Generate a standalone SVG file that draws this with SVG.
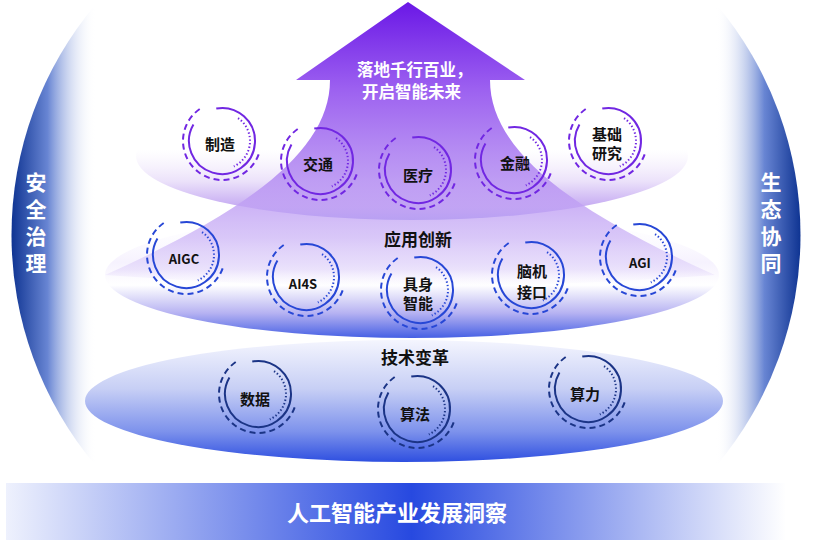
<svg xmlns="http://www.w3.org/2000/svg" xmlns:xlink="http://www.w3.org/1999/xlink" width="814" height="548" viewBox="0 0 814 548">
<style>
.lbl{font-family:"Noto Sans CJK SC","Noto Sans",sans-serif;font-weight:bold;fill:#111;text-anchor:middle;dominant-baseline:central}
.n{font-size:15px}
.en{font-size:13px;font-weight:600}
.layer{font-size:17px}
.side{font-family:"Noto Sans CJK SC",sans-serif;font-weight:bold;font-size:21px;fill:#fff;text-anchor:middle;writing-mode:vertical-rl;letter-spacing:6px}
.arrowtxt{font-family:"Noto Sans CJK SC",sans-serif;font-weight:bold;font-size:16.5px;fill:#fff}
.title{font-family:"Noto Sans CJK SC",sans-serif;font-weight:bold;font-size:22px;fill:#fff;text-anchor:middle;dominant-baseline:central}
.solid{fill:none;stroke:currentColor;stroke-width:2}
.dot{fill:none;stroke:currentColor;stroke-width:2;stroke-dasharray:1.4 2.2}
.dash{fill:none;stroke:currentColor;stroke-width:2;stroke-dasharray:6 4}
.p{color:#7127e2}.b{color:#2747d6}.d{color:#1b3486}
</style>
<defs>
<linearGradient id="gL" gradientUnits="userSpaceOnUse" x1="8" y1="0" x2="96" y2="0">
<stop offset="0" stop-color="#062c8c"/><stop offset="0.45" stop-color="#6885d3"/><stop offset="1" stop-color="#ffffff" stop-opacity="0"/>
</linearGradient>
<linearGradient id="gR" gradientUnits="userSpaceOnUse" x1="804" y1="0" x2="716" y2="0">
<stop offset="0" stop-color="#062c8c"/><stop offset="0.45" stop-color="#6885d3"/><stop offset="1" stop-color="#ffffff" stop-opacity="0"/>
</linearGradient>
<linearGradient id="gBar" gradientUnits="userSpaceOnUse" x1="6" y1="0" x2="786" y2="0">
<stop offset="0" stop-color="#eef1fd"/><stop offset="0.52" stop-color="#2749e0"/><stop offset="1" stop-color="#ffffff"/>
</linearGradient>
<linearGradient id="gBot" x1="0" y1="0" x2="0" y2="1">
<stop offset="0" stop-color="#f4f5fe"/><stop offset="0.4" stop-color="#c7cff5"/><stop offset="0.75" stop-color="#7d92ec"/><stop offset="1" stop-color="#2e4fe0"/>
</linearGradient>
<linearGradient id="gMid" x1="0" y1="0" x2="0" y2="1">
<stop offset="0" stop-color="#ffffff" stop-opacity="0"/><stop offset="0.4" stop-color="#f6f2fe"/><stop offset="0.58" stop-color="#ffffff"/><stop offset="0.8" stop-color="#b7b3f2"/><stop offset="1" stop-color="#4660e4"/>
</linearGradient>
<linearGradient id="gTop" x1="0" y1="0" x2="0" y2="1">
<stop offset="0" stop-color="#ffffff" stop-opacity="0"/><stop offset="0.45" stop-color="#ffffff" stop-opacity="0.6"/><stop offset="0.7" stop-color="#ebe1fa"/><stop offset="0.9" stop-color="#c4a9f2"/><stop offset="1" stop-color="#8579ea"/>
</linearGradient>
<linearGradient id="gArrow" gradientUnits="userSpaceOnUse" x1="0" y1="2" x2="0" y2="290">
<stop offset="0" stop-color="#6a17e6"/><stop offset="0.3" stop-color="#9c60f0"/><stop offset="0.6" stop-color="#b58ef2" stop-opacity="0.88"/><stop offset="0.82" stop-color="#cdb6f6" stop-opacity="0.75"/><stop offset="0.93" stop-color="#e2d6fa" stop-opacity="0.6"/><stop offset="1" stop-color="#ffffff" stop-opacity="0"/>
</linearGradient>
<g id="ring">
<path class="solid" d="M -5.73 -32.5 A 33 33 0 1 1 -28.58 -16.5"/>
<path class="dot" d="M 16.06 -22.94 A 28 28 0 0 1 11.83 25.38"/>
<path class="dash" d="M 36.65 13.34 A 39 39 0 1 1 -20.67 -33.07"/>
</g>
</defs>

<g id="side-left">
<path d="M 96 4 A 358 358 0 0 0 96 466 Z" fill="url(#gL)"/>
<text class="side" x="36" y="226">安全治理</text>
</g>
<g id="side-right">
<path d="M 716 4 A 358 358 0 0 1 716 466 Z" fill="url(#gR)"/>
<text class="side" x="771" y="226">生态协同</text>
</g>

<g id="layers">
<ellipse cx="404" cy="401" rx="319" ry="61" fill="url(#gBot)"/>
<ellipse cx="412" cy="275" rx="307" ry="63" fill="url(#gMid)"/>
<ellipse cx="412" cy="156" rx="276" ry="64" fill="url(#gTop)"/>
</g>

<g id="arrow">
<path d="M 408 2 L 525 80 L 490 80 C 490 150 570 210 715 275 Q 410 298 105 275 C 250 210 330 150 330 80 L 296 80 Z" fill="url(#gArrow)"/>
<text class="arrowtxt" x="357" y="76">落地千行百业，</text>
<text class="arrowtxt" x="362" y="98">开启智能未来</text>
</g>

<g id="bottom-bar">
<rect x="6" y="483" width="780" height="57" fill="url(#gBar)"/>
<text class="title" x="397" y="511">人工智能产业发展洞察</text>
</g>

<g id="layer-labels">
<text class="lbl layer" x="418" y="238">应用创新</text>
<text class="lbl layer" x="415" y="356">技术变革</text>
</g>

<g id="n-zhizao" class="p"><use href="#ring" x="222" y="141"/><text class="lbl n" x="220" y="143">制造</text></g>
<g id="n-jiaotong" class="p"><use href="#ring" x="320" y="161"/><text class="lbl n" x="318" y="163">交通</text></g>
<g id="n-yiliao" class="p"><use href="#ring" x="418" y="170"/><text class="lbl n" x="418" y="174">医疗</text></g>
<g id="n-jinrong" class="p"><use href="#ring" x="514" y="160"/><text class="lbl n" x="515" y="162">金融</text></g>
<g id="n-jichu" class="p"><use href="#ring" x="608" y="141"/><text class="lbl n" x="607" y="133">基础</text><text class="lbl n" x="607" y="152">研究</text></g>

<g id="n-aigc" class="b"><use href="#ring" x="186" y="255"/><text class="lbl en" x="184" y="258">AIGC</text></g>
<g id="n-ai4s" class="b"><use href="#ring" x="306" y="277"/><text class="lbl en" x="303" y="283">AI4S</text></g>
<g id="n-jushen" class="b"><use href="#ring" x="420" y="290"/><text class="lbl n" x="418" y="283">具身</text><text class="lbl n" x="418" y="302">智能</text></g>
<g id="n-naoji" class="b"><use href="#ring" x="531" y="275"/><text class="lbl n" x="532" y="270">脑机</text><text class="lbl n" x="532" y="291">接口</text></g>
<g id="n-agi" class="b"><use href="#ring" x="639" y="257"/><text class="lbl en" x="640" y="262">AGI</text></g>

<g id="n-shuju" class="d"><use href="#ring" x="258" y="394"/><text class="lbl n" x="255" y="398">数据</text></g>
<g id="n-suanfa" class="d"><use href="#ring" x="417" y="409"/><text class="lbl n" x="415" y="413">算法</text></g>
<g id="n-suanli" class="d"><use href="#ring" x="588" y="389"/><text class="lbl n" x="585" y="393">算力</text></g>
</svg>
